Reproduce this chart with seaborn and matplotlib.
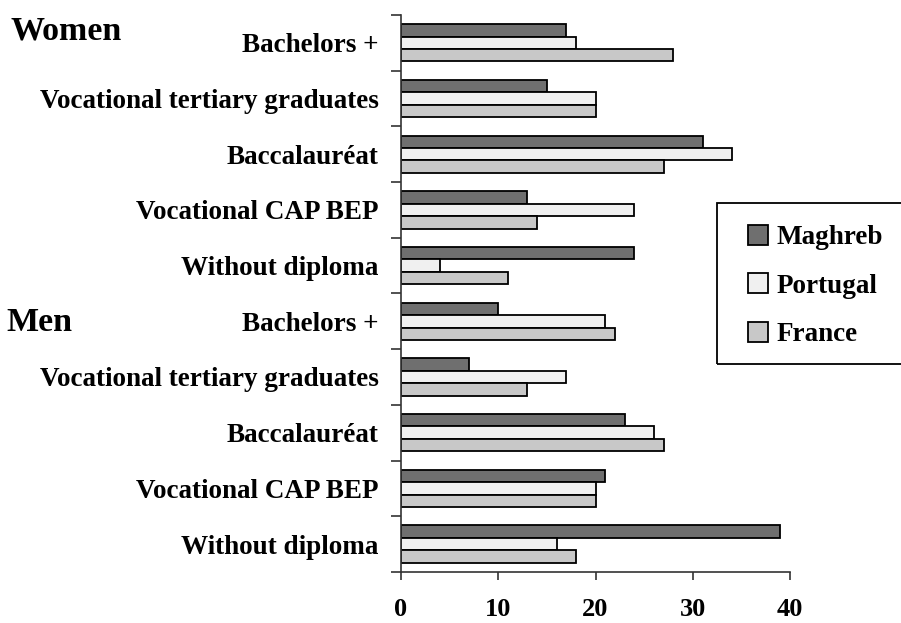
import pandas as pd
import matplotlib.pyplot as plt
import matplotlib.ticker as ticker
from matplotlib.patches import Rectangle
import seaborn as sns
import numpy as np

# categories, top to bottom
levels = ['Bachelors +', 'Vocational tertiary graduates', 'Baccalauréat',
          'Vocational CAP BEP', 'Without diploma']
groups = ['Women', 'Men']
countries = ['Maghreb', 'Portugal', 'France']

# women first, then men, same order as levels
maghreb = [17, 15, 31, 13, 24, 10, 7, 23, 21, 39]
portugal = [18, 20, 34, 24, 4, 21, 17, 26, 20, 16]
france = [28, 20, 27, 14, 11, 22, 13, 27, 20, 18]

colors = {'Maghreb': '#6f6f6f', 'Portugal': '#f0f0f0', 'France': '#c8c8c8'}


def main():
    sns.set_theme(style='white')
    plt.rcParams['font.family'] = ['Liberation Serif', 'DejaVu Serif']
    plt.rcParams['font.weight'] = 'bold'
    plt.rcParams['text.color'] = 'black'
    plt.rcParams['xtick.labelcolor'] = 'black'
    plt.rcParams['ytick.labelcolor'] = 'black'

    keys = [f'{g}|{lv}' for g in groups for lv in levels]
    labels = [lv for g in groups for lv in levels]
    df = pd.DataFrame({
        'key': keys * 3,
        'country': np.repeat(countries, len(keys)),
        'value': maghreb + portugal + france,
    })

    fig = plt.figure(figsize=(9.01, 6.23), dpi=100)
    ax = fig.add_axes([0.445, 0.082, 0.432, 0.894])
    sns.barplot(data=df, y='key', x='value', hue='country', order=keys,
                hue_order=countries, palette=colors, orient='h', width=0.67,
                edgecolor='black', linewidth=1.3, saturation=1, ax=ax)

    ax.set_xlim(0, 40)
    ax.set_xlabel('')
    ax.set_ylabel('')
    ax.xaxis.set_major_locator(ticker.MultipleLocator(10))
    ax.tick_params(axis='x', direction='out', length=6, width=1.2, color='#333333',
                   labelsize=19, pad=13, bottom=True, labelcolor='black')
    for lab in ax.get_xticklabels():
        lab.set_fontweight('bold')

    ax.set_yticks(range(len(keys)))
    ax.set_yticklabels(labels, fontsize=19.5, fontweight='bold', color='black')
    ax.tick_params(axis='y', length=0, pad=16)
    ax.yaxis.set_minor_locator(ticker.FixedLocator(np.arange(-0.5, len(keys), 1)))
    ax.tick_params(axis='y', which='minor', direction='out', length=7, width=1.2,
                   color='#333333', left=True)

    for s in ['top', 'right']:
        ax.spines[s].set_visible(False)
    for s in ['left', 'bottom']:
        ax.spines[s].set_color('#333333')
        ax.spines[s].set_linewidth(1.2)

    fig.text(0.012, 0.950, 'Women', fontsize=24.5, fontweight='bold', va='center',
             color='black')
    fig.text(0.007, 0.483, 'Men', fontsize=24.5, fontweight='bold', va='center',
             color='black')

    # legend box runs past the right edge of the figure
    fig.add_artist(Rectangle((717 / 901, 1 - 364 / 623), 0.3, 161 / 623,
                             transform=fig.transFigure, fill=False,
                             edgecolor='black', linewidth=1.3))
    leg = ax.legend(loc='center left', bbox_to_anchor=(748 / 901, 1 - 286 / 623),
                    bbox_transform=fig.transFigure, frameon=False,
                    prop={'size': 19.5, 'weight': 'bold'}, labelspacing=0.85,
                    handlelength=0.75, handleheight=0.75, handletextpad=0.3,
                    borderpad=0, borderaxespad=0)
    for t in leg.get_texts():
        t.set_color('black')

    fig.savefig('out.png', dpi=100)


if __name__ == '__main__':
    main()
